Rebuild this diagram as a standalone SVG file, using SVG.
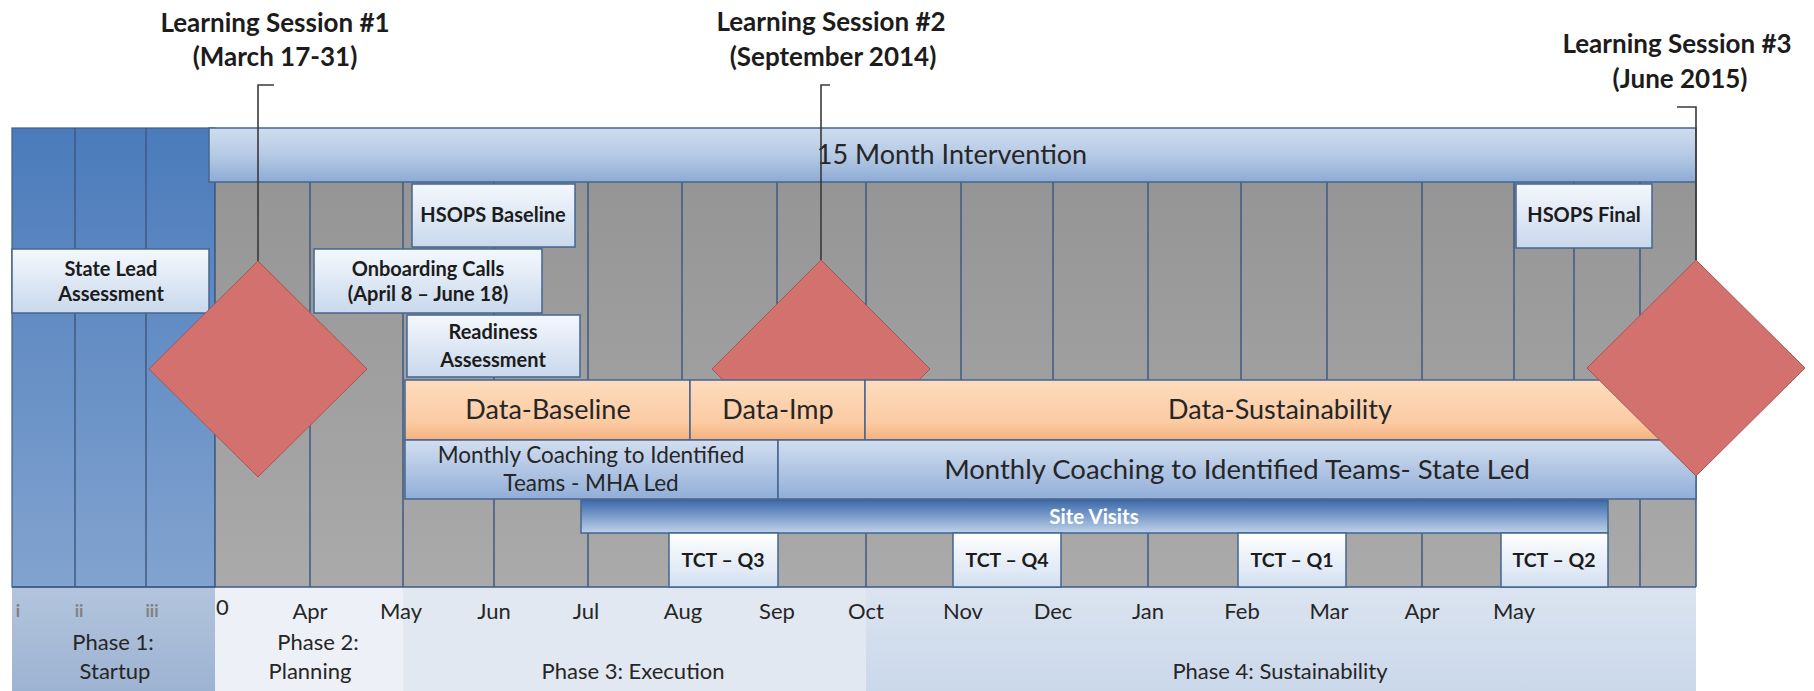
<svg xmlns="http://www.w3.org/2000/svg" width="1814" height="691" viewBox="0 0 1814 691">
<defs>
<linearGradient id="gBlue" x1="0" y1="0" x2="0" y2="1"><stop offset="0" stop-color="#4b7bbb"/><stop offset="1" stop-color="#82a3cf"/></linearGradient>
<linearGradient id="gGray" x1="0" y1="0" x2="0" y2="1"><stop offset="0" stop-color="#959595"/><stop offset="1" stop-color="#aaaaaa"/></linearGradient>
<linearGradient id="gBar" x1="0" y1="0" x2="0" y2="1"><stop offset="0" stop-color="#cfdcee"/><stop offset="0.5" stop-color="#b6cae5"/><stop offset="1" stop-color="#8dabd5"/></linearGradient>
<linearGradient id="gBox" x1="0" y1="0" x2="0" y2="1"><stop offset="0" stop-color="#f4f8fd"/><stop offset="1" stop-color="#c9d8ec"/></linearGradient>
<linearGradient id="gOrange" x1="0" y1="0" x2="0" y2="1"><stop offset="0" stop-color="#fddcbe"/><stop offset="0.7" stop-color="#fbcba3"/><stop offset="1" stop-color="#f5b080"/></linearGradient>
<linearGradient id="gCoach" x1="0" y1="0" x2="0" y2="1"><stop offset="0" stop-color="#d2def0"/><stop offset="1" stop-color="#91aed8"/></linearGradient>
<linearGradient id="gSite" x1="0" y1="0" x2="0" y2="1"><stop offset="0" stop-color="#3a69ab"/><stop offset="1" stop-color="#bfd2ea"/></linearGradient>
<linearGradient id="gTct" x1="0" y1="0" x2="0" y2="1"><stop offset="0" stop-color="#ffffff"/><stop offset="1" stop-color="#d3e0f1"/></linearGradient>
<linearGradient id="gP1" x1="0" y1="0" x2="0" y2="1"><stop offset="0" stop-color="#b3c5dd"/><stop offset="1" stop-color="#9db3d2"/></linearGradient>
<linearGradient id="gP4" x1="0" y1="0" x2="0" y2="1"><stop offset="0" stop-color="#dbe4f0"/><stop offset="1" stop-color="#cbd8ea"/></linearGradient>
<style>
.t{font-family:Lato,"Liberation Sans",sans-serif;fill:#262626;text-anchor:middle}
.b{font-weight:bold;fill:#1c1c1c}
.ttl{font-size:26px}
.bx{font-size:20px}
.tc{font-size:19.5px}
.mo{font-size:22px}
.ph{font-size:22px}
.rn{font-size:17px;font-weight:bold;fill:#808080}
.grid line{stroke:#3f5a80;stroke-width:1.5}
.box{stroke:#45658f;stroke-width:1.5}
.dia{fill:#d3716f;stroke:#a85654;stroke-width:1}
.conn{fill:none;stroke:#3a3a3a;stroke-width:1.6}
</style>
</defs>
<rect width="1814" height="691" fill="#ffffff"/>

<g id="axis-bands">
<rect x="12" y="587" width="203" height="104" fill="url(#gP1)"/>
<rect x="215" y="587" width="188" height="104" fill="#edf1f7"/>
<rect x="403" y="587" width="463" height="104" fill="#e1e8f1"/>
<rect x="866" y="587" width="830" height="104" fill="url(#gP4)"/>
</g>

<g id="background">
<rect x="12" y="128" width="203" height="459" fill="url(#gBlue)" stroke="#3f5f8a" stroke-width="1.2"/>
<rect x="215" y="182" width="1481" height="405" fill="url(#gGray)"/>
</g>

<g class="grid" id="grid">
<line x1="75" y1="128" x2="75" y2="587"/>
<line x1="146" y1="128" x2="146" y2="587"/>
<line x1="215" y1="128" x2="215" y2="587"/>
<line x1="310" y1="182" x2="310" y2="587"/>
<line x1="403" y1="182" x2="403" y2="587"/>
<line x1="494" y1="182" x2="494" y2="587"/>
<line x1="588" y1="182" x2="588" y2="587"/>
<line x1="682" y1="182" x2="682" y2="587"/>
<line x1="777" y1="182" x2="777" y2="587"/>
<line x1="866" y1="182" x2="866" y2="587"/>
<line x1="961" y1="182" x2="961" y2="587"/>
<line x1="1053" y1="182" x2="1053" y2="587"/>
<line x1="1148" y1="182" x2="1148" y2="587"/>
<line x1="1241" y1="182" x2="1241" y2="587"/>
<line x1="1327" y1="182" x2="1327" y2="587"/>
<line x1="1422" y1="182" x2="1422" y2="587"/>
<line x1="1514" y1="182" x2="1514" y2="587"/>
<line x1="1574" y1="182" x2="1574" y2="587"/>
<line x1="1640" y1="182" x2="1640" y2="587"/>
<line x1="1696" y1="182" x2="1696" y2="587"/>
<line x1="12" y1="587" x2="1696" y2="587"/>
</g>

<g id="ls2-diamond"><polygon class="dia" points="821,260 930,369 821,478 712,369"/></g>

<g id="intervention">
<rect class="box" x="209" y="128" width="1487" height="54" fill="url(#gBar)" stroke="#34557f"/>
<text class="t" x="952" y="164" font-size="27">15 Month Intervention</text>
</g>

<g id="hsops-baseline">
<rect class="box" x="412" y="184" width="163" height="63" fill="url(#gBox)"/>
<text class="t b bx" x="493" y="222">HSOPS Baseline</text>
</g>
<g id="state-lead">
<rect class="box" x="12" y="249" width="197" height="64" fill="url(#gBox)"/>
<text class="t b bx" x="111" y="276">State Lead</text>
<text class="t b bx" x="111" y="301">Assessment</text>
</g>
<g id="onboarding">
<rect class="box" x="314" y="249" width="228" height="64" fill="url(#gBox)"/>
<text class="t b bx" x="428" y="276">Onboarding Calls</text>
<text class="t b bx" x="428" y="301">(April 8 – June 18)</text>
</g>
<g id="readiness">
<rect class="box" x="407" y="315" width="173" height="62" fill="url(#gBox)"/>
<text class="t b bx" x="493" y="339">Readiness</text>
<text class="t b bx" x="493" y="367">Assessment</text>
</g>
<g id="hsops-final">
<rect class="box" x="1516" y="184" width="136" height="64" fill="url(#gBox)"/>
<text class="t b bx" x="1584" y="222">HSOPS Final</text>
</g>

<g id="data-baseline">
<rect class="box" x="405" y="380" width="285" height="60" fill="url(#gOrange)" stroke="#6f7f96"/>
<text class="t" x="548" y="419" font-size="27">Data-Baseline</text>
</g>
<g id="data-imp">
<rect class="box" x="690" y="380" width="175" height="60" fill="url(#gOrange)" stroke="#6f7f96"/>
<text class="t" x="778" y="419" font-size="27">Data-Imp</text>
</g>
<g id="data-sustainability">
<rect class="box" x="865" y="380" width="831" height="60" fill="url(#gOrange)" stroke="#6f7f96"/>
<text class="t" x="1280" y="419" font-size="27">Data-Sustainability</text>
</g>

<g id="coaching-mha">
<rect class="box" x="405" y="440" width="373" height="59" fill="url(#gCoach)"/>
<text class="t" x="591" y="463" font-size="22.5">Monthly Coaching to Identified</text>
<text class="t" x="591" y="491" font-size="22.5">Teams - MHA Led</text>
</g>
<g id="coaching-state">
<rect class="box" x="778" y="440" width="918" height="59" fill="url(#gCoach)"/>
<text class="t" x="1237" y="479" font-size="27.5">Monthly Coaching to Identified Teams- State Led</text>
</g>

<g id="site-visits">
<rect class="box" x="581" y="500" width="1027" height="33" fill="url(#gSite)"/>
<text class="t b" x="1094" y="524" font-size="20.5" style="fill:#ffffff">Site Visits</text>
</g>

<g id="tct-q3">
<rect class="box" x="669" y="533" width="109" height="54" fill="url(#gTct)"/>
<text class="t b tc" x="723" y="567">TCT – Q3</text>
</g>
<g id="tct-q4">
<rect class="box" x="953" y="533" width="108" height="54" fill="url(#gTct)"/>
<text class="t b tc" x="1007" y="567">TCT – Q4</text>
</g>
<g id="tct-q1">
<rect class="box" x="1238" y="533" width="108" height="54" fill="url(#gTct)"/>
<text class="t b tc" x="1292" y="567">TCT – Q1</text>
</g>
<g id="tct-q2">
<rect class="box" x="1501" y="533" width="107" height="54" fill="url(#gTct)"/>
<text class="t b tc" x="1554" y="567">TCT – Q2</text>
</g>

<g id="ls1-diamond"><polygon class="dia" points="258,261 367,369 258,477 149,369"/></g>
<g id="ls3-diamond"><polygon class="dia" points="1696,260 1805,368 1696,476 1587,368"/></g>

<g id="connectors">
<path class="conn" d="M274,85 H258 V261"/>
<path class="conn" d="M830,85 H821 V260"/>
<path class="conn" d="M1677,107 H1696 V260"/>
</g>

<g id="ls1-title">
<text class="t b ttl" x="275" y="32">Learning Session #1</text>
<text class="t b ttl" x="275" y="66">(March 17-31)</text>
</g>
<g id="ls2-title">
<text class="t b ttl" x="831" y="31">Learning Session #2</text>
<text class="t b ttl" x="833" y="66">(September 2014)</text>
</g>
<g id="ls3-title">
<text class="t b ttl" x="1677" y="53">Learning Session #3</text>
<text class="t b ttl" x="1680" y="88">(June 2015)</text>
</g>

<g id="axis-labels">
<text class="t rn" x="18" y="617">i</text>
<text class="t rn" x="79" y="617">ii</text>
<text class="t rn" x="152" y="617">iii</text>
<text class="t mo" x="216" y="615" style="text-anchor:start">0</text>
<text class="t mo" x="310" y="619">Apr</text>
<text class="t mo" x="401" y="619">May</text>
<text class="t mo" x="494" y="619">Jun</text>
<text class="t mo" x="586" y="619">Jul</text>
<text class="t mo" x="683" y="619">Aug</text>
<text class="t mo" x="777" y="619">Sep</text>
<text class="t mo" x="866" y="619">Oct</text>
<text class="t mo" x="963" y="619">Nov</text>
<text class="t mo" x="1053" y="619">Dec</text>
<text class="t mo" x="1148" y="619">Jan</text>
<text class="t mo" x="1242" y="619">Feb</text>
<text class="t mo" x="1329" y="619">Mar</text>
<text class="t mo" x="1422" y="619">Apr</text>
<text class="t mo" x="1514" y="619">May</text>
<text class="t ph" x="113" y="650">Phase 1:</text>
<text class="t ph" x="115" y="679">Startup</text>
<text class="t ph" x="318" y="650">Phase 2:</text>
<text class="t ph" x="310" y="679">Planning</text>
<text class="t ph" x="633" y="679">Phase 3: Execution</text>
<text class="t ph" x="1280" y="679">Phase 4: Sustainability</text>
</g>
</svg>
